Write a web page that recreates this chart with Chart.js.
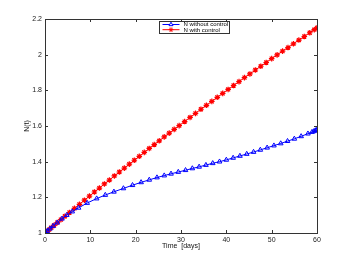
<!DOCTYPE html>
<html>
<head>
<meta charset="utf-8">
<script src="https://cdn.jsdelivr.net/npm/chart.js@4.4.0/dist/chart.umd.min.js"></script>
<style>
  html, body { margin: 0; padding: 0; background: #fff; }
  #wrap { width: 350px; height: 263px; }
</style>
</head>
<body>
<div id="wrap"><canvas id="chart" width="350" height="263"></canvas></div>
<script>
// values
const timeNoControl = [0, 0.15, 0.5, 1.1, 1.8, 2.7, 3.75, 4.8, 6.0, 7.4, 9.3, 11.4, 13.3, 15.2, 17.3, 19.3, 21.2, 23.0, 24.7, 26.3, 27.8, 29.4, 31.0, 32.5, 34.0, 35.5, 37.0, 38.5, 40.0, 41.5, 43.0, 44.5, 46.0, 47.5, 49.0, 50.5, 52.0, 53.5, 55.0, 56.5, 58.0, 58.9, 59.3, 59.6, 59.8, 60.0]
const nNoControl = [1.000, 1.003, 1.011, 1.024, 1.039, 1.058, 1.080, 1.100, 1.120, 1.141, 1.168, 1.193, 1.213, 1.231, 1.250, 1.268, 1.284, 1.298, 1.311, 1.322, 1.332, 1.342, 1.352, 1.362, 1.371, 1.381, 1.391, 1.400, 1.410, 1.421, 1.432, 1.443, 1.454, 1.466, 1.478, 1.490, 1.502, 1.515, 1.528, 1.542, 1.557, 1.566, 1.570, 1.574, 1.576, 1.578]

const timeControl = [0, 0.2, 0.5, 0.9, 1.4, 2.0, 2.7, 3.5, 4.4, 5.4, 6.5, 7.6, 8.7, 9.8, 10.9, 12.0, 13.1, 14.2, 15.3, 16.4, 17.5, 18.6, 19.7, 20.8, 21.9, 23.0, 24.1, 25.2, 26.3, 27.4, 28.5, 29.6, 30.8, 32.0, 33.2, 34.4, 35.6, 36.8, 38.0, 39.2, 40.4, 41.6, 42.8, 44.0, 45.2, 46.4, 47.6, 48.8, 50.0, 51.2, 52.4, 53.6, 54.8, 56.0, 57.2, 58.4, 59.4, 60.0]
const nControl = [1.000, 1.004, 1.011, 1.019, 1.030, 1.043, 1.058, 1.075, 1.094, 1.115, 1.138, 1.161, 1.184, 1.207, 1.230, 1.252, 1.275, 1.297, 1.320, 1.342, 1.364, 1.386, 1.408, 1.430, 1.452, 1.474, 1.496, 1.517, 1.539, 1.560, 1.581, 1.602, 1.625, 1.648, 1.671, 1.694, 1.716, 1.738, 1.761, 1.783, 1.805, 1.827, 1.849, 1.871, 1.892, 1.914, 1.935, 1.956, 1.978, 1.999, 2.020, 2.040, 2.061, 2.082, 2.102, 2.123, 2.140, 2.150]

const seriesLabels = ['N without control', 'N with control']
const xLabel = 'Time  [days]'
const yLabel = 'N(t)'

const toPoints = (xs, ys) => xs.map((x, i) => ({ x: x, y: ys[i] }))

const axisColor = '#333'
const tickFont = { family: 'Liberation Sans, Arial, sans-serif', size: 7 }

// box round the plot with inward ticks on all four sides
const boxPlugin = {
  id: 'box',
  afterDatasetsDraw (chart) {
    const { ctx, chartArea: a, scales } = chart
    const len = 3
    ctx.save()
    ctx.strokeStyle = axisColor
    ctx.lineWidth = 1
    ctx.beginPath()
    scales.x.ticks.forEach(t => {
      const px = Math.round(scales.x.getPixelForValue(t.value)) + 0.5
      ctx.moveTo(px, a.bottom); ctx.lineTo(px, a.bottom - len)
      ctx.moveTo(px, a.top); ctx.lineTo(px, a.top + len)
    })
    scales.y.ticks.forEach(t => {
      const py = Math.round(scales.y.getPixelForValue(t.value)) + 0.5
      ctx.moveTo(a.left, py); ctx.lineTo(a.left + len, py)
      ctx.moveTo(a.right, py); ctx.lineTo(a.right - len, py)
    })
    ctx.stroke()
    ctx.strokeRect(Math.round(a.left) + 0.5, Math.round(a.top) + 0.5, Math.round(a.right - a.left), Math.round(a.bottom - a.top))
    ctx.restore()
  }
}

// legend inside the plot, line sample with marker
const legendPlugin = {
  id: 'boxLegend',
  afterDraw (chart) {
    const { ctx } = chart
    const bx = 159.5
    const by = 21.5
    const bw = 70
    const bh = 12
    ctx.save()
    ctx.fillStyle = '#fff'
    ctx.fillRect(bx, by, bw, bh)
    ctx.strokeStyle = axisColor
    ctx.lineWidth = 1
    ctx.strokeRect(bx, by, bw, bh)
    ctx.font = '6px Liberation Sans, Arial, sans-serif'
    ctx.textBaseline = 'middle'
    chart.data.datasets.forEach((ds, i) => {
      const y = by + 3 + i * 5.2
      ctx.strokeStyle = ds.borderColor
      ctx.lineWidth = 1
      ctx.beginPath()
      ctx.moveTo(bx + 3, y)
      ctx.lineTo(bx + 20, y)
      ctx.stroke()
      Chart.helpers.drawPoint(ctx, {
        pointStyle: ds.pointStyle,
        radius: 2.3,
        borderWidth: ds.pointBorderWidth,
        rotation: 0
      }, bx + 11.5, y)
      ctx.fillStyle = '#000'
      ctx.fillText(ds.label, bx + 24, y + 0.3)
    })
    ctx.restore()
  }
}

new Chart(document.getElementById('chart'), {
  type: 'line',
  data: {
    datasets: [
      {
        label: seriesLabels[0],
        data: toPoints(timeNoControl, nNoControl),
        borderColor: '#0000ff',
        backgroundColor: 'rgba(0,0,0,0)',
        borderWidth: 1,
        pointStyle: 'triangle',
        pointRadius: 2.7,
        pointBorderWidth: 1,
        pointBorderColor: '#0000ff',
        pointBackgroundColor: 'rgba(0,0,0,0)',
        tension: 0
      },
      {
        label: seriesLabels[1],
        data: toPoints(timeControl, nControl),
        borderColor: '#ff0000',
        backgroundColor: '#ff0000',
        borderWidth: 1,
        pointStyle: 'star',
        pointRadius: 2.8,
        pointBorderWidth: 1.2,
        pointBorderColor: '#ff0000',
        pointBackgroundColor: '#ff0000',
        tension: 0
      }
    ]
  },
  options: {
    responsive: false,
    animation: false,
    layout: { padding: { left: 0, top: 19, right: 33, bottom: 0 } },
    plugins: {
      legend: { display: false },
      tooltip: { enabled: false }
    },
    scales: {
      x: {
        type: 'linear',
        min: 0,
        max: 60,
        grid: { display: false, drawTicks: false },
        border: { display: false },
        ticks: { stepSize: 10, color: '#222', font: tickFont, padding: 3, maxRotation: 0 },
        title: { display: true, text: xLabel, color: '#111', font: tickFont, padding: { top: 0, bottom: 13 } },
        afterFit (scale) { scale.height = 30 }
      },
      y: {
        type: 'linear',
        min: 1,
        max: 2.2,
        grid: { display: false, drawTicks: false },
        border: { display: false },
        ticks: { stepSize: 0.2, color: '#222', font: tickFont, padding: 3, callback: v => String(Math.round(v * 10) / 10) },
        title: { display: true, text: yLabel, color: '#111', font: tickFont, padding: { top: 23, bottom: 0 } },
        afterFit (scale) { scale.width = 45 }
      }
    }
  },
  plugins: [boxPlugin, legendPlugin]
})
</script>
</body>
</html>
